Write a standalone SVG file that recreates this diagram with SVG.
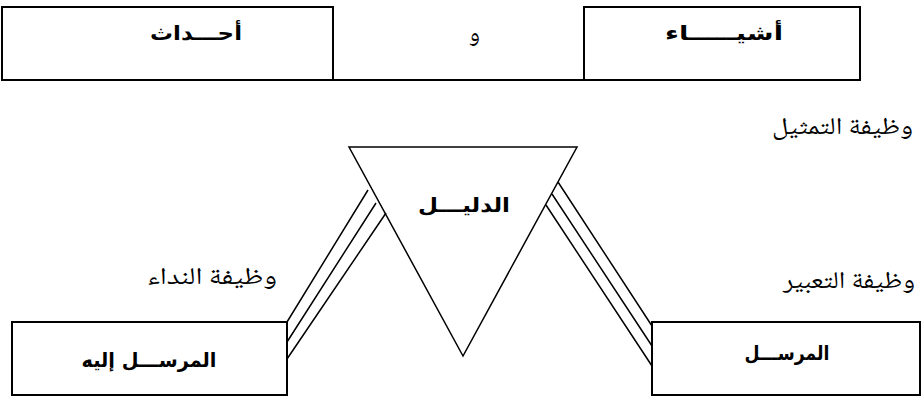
<svg xmlns="http://www.w3.org/2000/svg" width="921" height="396" viewBox="0 0 921 396">
<style>
.box{fill:none;stroke:#000;stroke-width:2}
.ln{fill:none;stroke:#000;stroke-width:1.5}
.b{font-family:"DejaVu Sans",sans-serif;font-weight:bold;font-size:20px;fill:#000;text-anchor:middle}
.s{font-family:"Noto Naskh Arabic","DejaVu Sans",serif;font-size:24px;fill:#000;text-anchor:end}
</style>
<rect width="921" height="396" fill="#fff"/>
<g id="top">
<path class="box" d="M2,7 H333 V80 H2 Z"/>
<path class="box" d="M333,80 H584"/>
<rect class="box" x="584" y="7" width="276" height="73"/>
<text class="b" x="196" y="40" textLength="92" lengthAdjust="spacingAndGlyphs">أحـــداث</text>
<text class="s" x="480" y="41">و</text>
<text class="b" x="724" y="40" textLength="118" lengthAdjust="spacingAndGlyphs">أشيـــــاء</text>
</g>
<g id="sign">
<path class="ln" d="M349,147 H577 L463,356 Z"/>
<text class="b" x="464" y="212" textLength="92" lengthAdjust="spacingAndGlyphs">الدليـــل</text>
</g>
<g id="receiver">
<rect class="box" x="12" y="322" width="275" height="73"/>
<text class="b" x="149" y="367" textLength="135" lengthAdjust="spacingAndGlyphs">المرســـل إليه</text>
</g>
<g id="sender">
<rect class="box" x="652" y="322" width="268" height="73"/>
<text class="b" x="787" y="360" textLength="85" lengthAdjust="spacingAndGlyphs">المرســـل</text>
</g>
<g id="connectors">
<path class="ln" d="M368,190 L287,322 M376,203 L287,342 M386,213 L287,359"/>
<path class="ln" d="M558,182 L652,326 M552,194 L652,346 M546,205 L652,366"/>
</g>
<g id="labels">
<text class="s" x="913" y="134" textLength="141" lengthAdjust="spacingAndGlyphs">وظيفة التمثيل</text>
<text class="s" x="277" y="284" textLength="130" lengthAdjust="spacingAndGlyphs">وظيفة النداء</text>
<text class="s" x="915" y="288" textLength="132" lengthAdjust="spacingAndGlyphs">وظيفة التعبير</text>
</g>
</svg>
